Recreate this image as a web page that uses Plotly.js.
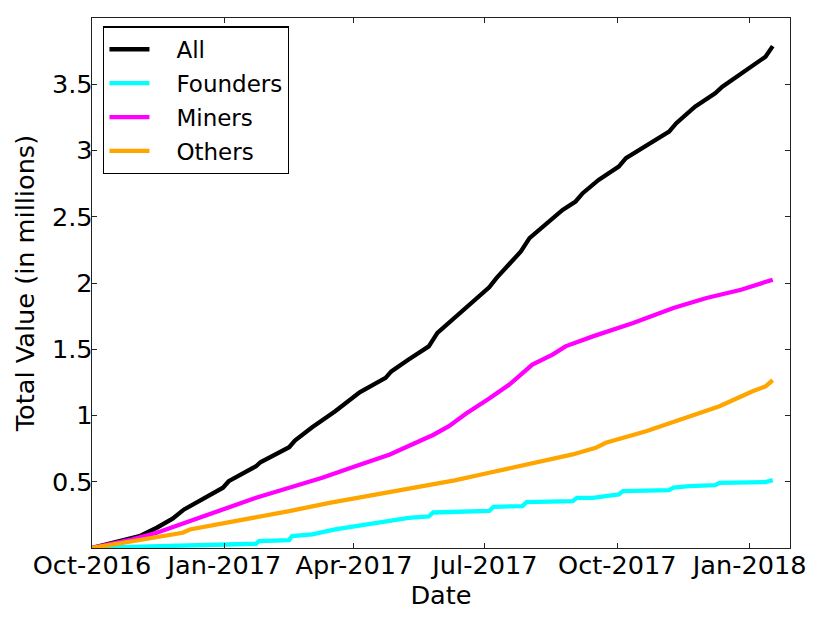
<!DOCTYPE html>
<html>
<head>
<meta charset="utf-8">
<script src="https://cdn.plot.ly/plotly-3.0.1.min.js"></script>
<style>
  html, body { margin: 0; padding: 0; background: #ffffff; }
  #chart { width: 830px; height: 623px; }
</style>
</head>
<body>
<div id="chart"></div>
<script>
// values, in millions
let allDates = ['2016-10-01', '2016-10-22', '2016-11-03', '2016-11-15', '2016-11-26', '2016-12-04',
    '2016-12-19', '2016-12-31', '2017-01-04', '2017-01-23', '2017-01-26', '2017-02-15', '2017-02-19',
    '2017-03-03', '2017-03-19', '2017-04-05', '2017-04-23', '2017-04-27', '2017-05-09', '2017-05-23',
    '2017-05-29', '2017-06-13', '2017-07-04', '2017-07-09', '2017-07-26', '2017-08-01', '2017-08-24',
    '2017-09-02', '2017-09-07', '2017-09-18', '2017-10-02', '2017-10-07', '2017-11-06', '2017-11-11',
    '2017-11-24', '2017-12-08', '2017-12-13', '2018-01-12', '2018-01-14', '2018-01-17'];
let allValues = [0, 0.052, 0.090, 0.153, 0.221, 0.291,
    0.379, 0.455, 0.504, 0.617, 0.647, 0.761, 0.811,
    0.911, 1.032, 1.175, 1.284, 1.333, 1.422, 1.522,
    1.623, 1.768, 1.968, 2.037, 2.238, 2.339, 2.552,
    2.615, 2.678, 2.778, 2.879, 2.942, 3.142, 3.206,
    3.331, 3.432, 3.482, 3.708, 3.745, 3.788];

let founderDates = ['2016-10-01', '2016-11-26', '2016-12-31', '2017-01-23', '2017-01-25', '2017-02-15',
    '2017-02-17', '2017-03-03', '2017-03-19', '2017-04-02', '2017-04-26', '2017-05-09', '2017-05-23',
    '2017-05-26', '2017-07-04', '2017-07-07', '2017-07-27', '2017-07-30', '2017-08-31', '2017-09-03',
    '2017-09-14', '2017-10-02', '2017-10-05', '2017-11-06', '2017-11-09', '2017-11-20', '2017-12-08',
    '2017-12-11', '2018-01-12', '2018-01-17'];
let founderValues = [0, 0.014, 0.020, 0.032, 0.052, 0.060,
    0.090, 0.103, 0.140, 0.165, 0.203, 0.228, 0.238,
    0.268, 0.280, 0.311, 0.316, 0.346, 0.354, 0.379,
    0.379, 0.404, 0.429, 0.436, 0.455, 0.467, 0.474,
    0.492, 0.497, 0.512];

let minerDates = ['2016-10-01', '2016-10-29', '2016-11-15', '2016-12-08', '2016-12-31', '2017-01-23',
    '2017-02-15', '2017-03-10', '2017-04-02', '2017-04-26', '2017-05-19', '2017-05-26', '2017-06-06',
    '2017-06-18', '2017-07-04', '2017-07-18', '2017-08-03', '2017-08-17', '2017-08-26', '2017-09-14',
    '2017-10-12', '2017-11-09', '2017-12-02', '2017-12-26', '2018-01-17'];
let minerValues = [0, 0.065, 0.115, 0.203, 0.291, 0.379,
    0.455, 0.530, 0.617, 0.706, 0.819, 0.853, 0.919,
    1.015, 1.128, 1.233, 1.384, 1.459, 1.522, 1.597,
    1.698, 1.811, 1.887, 1.949, 2.025];

let otherDates = ['2016-10-01', '2016-10-29', '2016-11-15', '2016-12-03', '2016-12-08', '2017-01-04',
    '2017-02-15', '2017-03-15', '2017-05-05', '2017-06-10', '2017-07-04', '2017-07-25', '2017-08-31',
    '2017-09-16', '2017-09-23', '2017-10-21', '2017-11-18', '2017-12-11', '2018-01-03', '2018-01-12',
    '2018-01-17'];
let otherValues = [0, 0.052, 0.078, 0.115, 0.140, 0.191,
    0.278, 0.341, 0.442, 0.510, 0.568, 0.617, 0.706,
    0.756, 0.794, 0.881, 0.982, 1.070, 1.183, 1.220,
    1.266];

let xTickVals = ['2016-10-01', '2017-01-01', '2017-04-01', '2017-07-01', '2017-10-01', '2018-01-01'];
let xTickText = ['Oct-2016', 'Jan-2017', 'Apr-2017', 'Jul-2017', 'Oct-2017', 'Jan-2018'];
let yTickVals = [0.5, 1, 1.5, 2, 2.5, 3, 3.5];
let yTickText = ['0.5', '1', '1.5', '2', '2.5', '3', '3.5'];

let font = 'DejaVu Sans, sans-serif';
let gap = '\u00a0\u00a0\u00a0'; // push legend labels away from the line samples

function series(name, x, y, color) {
    return {
        x: x,
        y: y,
        name: gap + name,
        legendgroup: name,
        type: 'scatter',
        mode: 'lines',
        line: { color: color, width: 4.3 },
    };
}

let data = [
    series('All', allDates, allValues, '#000000'),
    series('Founders', founderDates, founderValues, '#00ffff'),
    series('Miners', minerDates, minerValues, '#ff00ff'),
    series('Others', otherDates, otherValues, '#ffa500'),
];

let axisCommon = {
    showline: true,
    linecolor: '#222222',
    linewidth: 1.3,
    mirror: 'allticks',
    ticks: 'inside',
    ticklen: 5,
    tickwidth: 1,
    tickcolor: '#222222',
    showgrid: false,
    zeroline: false,
    tickfont: { family: font, size: 25.6, color: '#000000' },
};

let layout = {
    width: 830,
    height: 623,
    margin: { l: 92, r: 40, t: 18, b: 75, pad: 0 },
    paper_bgcolor: '#ffffff',
    plot_bgcolor: '#ffffff',
    font: { family: font, color: '#000000' },
    xaxis: Object.assign({}, axisCommon, {
        type: 'date',
        range: ['2016-10-01', '2018-01-29'],
        tickmode: 'array',
        tickvals: xTickVals,
        ticktext: xTickText,
        ticklabelstandoff: -6,
        title: { text: 'Date', font: { family: font, size: 25.6 }, standoff: 2 },
    }),
    yaxis: Object.assign({}, axisCommon, {
        range: [0, 4],
        tickmode: 'array',
        tickvals: yTickVals,
        ticktext: yTickText,
        ticklabelstandoff: -7,
        title: { text: 'Total Value (in millions)', font: { family: font, size: 25.6 }, standoff: 10 },
    }),
    showlegend: true,
    legend: {
        x: 0.016,
        y: 0.984,
        xanchor: 'left',
        yanchor: 'top',
        bgcolor: '#ffffff',
        bordercolor: '#000000',
        borderwidth: 1.3,
        itemwidth: 40,
        font: { family: font, size: 23, color: '#000000' },
        tracegroupgap: 1,
    },
};

let config = { staticPlot: true, displayModeBar: false };

Plotly.newPlot('chart', data, layout, config);
</script>
</body>
</html>
